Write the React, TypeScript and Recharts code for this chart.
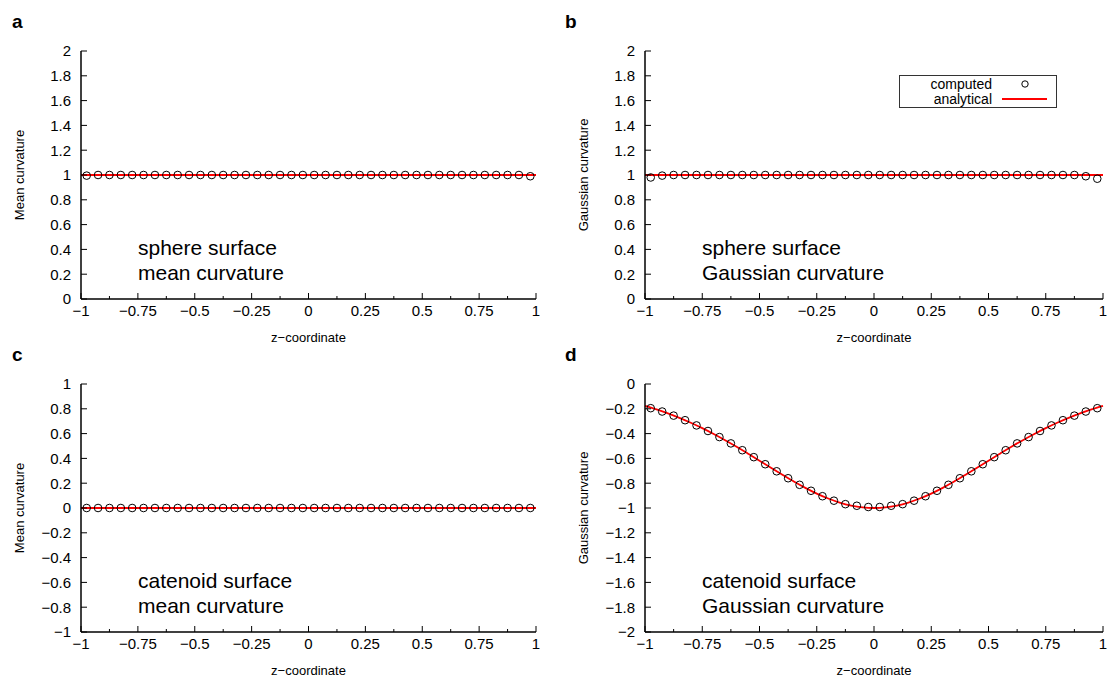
import React from 'react';
import { ComposedChart, Scatter, Line, XAxis, YAxis } from 'recharts';

// sample positions of the computed values
const zComputed = [
  -0.975, -0.925, -0.875, -0.825, -0.775, -0.725, -0.675, -0.625, -0.575, -0.525,
  -0.475, -0.425, -0.375, -0.325, -0.275, -0.225, -0.175, -0.125, -0.075, -0.025,
  0.025, 0.075, 0.125, 0.175, 0.225, 0.275, 0.325, 0.375, 0.425, 0.475,
  0.525, 0.575, 0.625, 0.675, 0.725, 0.775, 0.825, 0.875, 0.925, 0.975,
];

const sphereMeanComputed = [
  0.995, 1, 1, 1, 1, 1, 1, 1, 1, 1,
  1, 1, 1, 1, 1, 1, 1, 1, 1, 1,
  1, 1, 1, 1, 1, 1, 1, 1, 1, 1,
  1, 1, 1, 1, 1, 1, 1, 1, 1, 0.99,
];

const sphereGaussComputed = [
  0.98, 0.995, 1, 1, 1, 1, 1, 1, 1, 1,
  1, 1, 1, 1, 1, 1, 1, 1, 1, 1,
  1, 1, 1, 1, 1, 1, 1, 1, 1, 1,
  1, 1, 1, 1, 1, 1, 1, 1, 0.99, 0.97,
];

const catenoidMeanComputed = [
  0, 0, 0, 0, 0, 0, 0, 0, 0, 0,
  0, 0, 0, 0, 0, 0, 0, 0, 0, 0,
  0, 0, 0, 0, 0, 0, 0, 0, 0, 0,
  0, 0, 0, 0, 0, 0, 0, 0, 0, 0,
];

const catenoidGaussComputed = [
  -0.195, -0.222, -0.255, -0.292, -0.334, -0.379, -0.428, -0.479, -0.534, -0.59,
  -0.647, -0.704, -0.76, -0.813, -0.861, -0.905, -0.941, -0.969, -0.982, -0.992,
  -0.992, -0.982, -0.969, -0.941, -0.905, -0.861, -0.813, -0.76, -0.704, -0.647,
  -0.59, -0.534, -0.479, -0.428, -0.379, -0.334, -0.292, -0.255, -0.222, -0.195,
];

// analytical curves
const flatLineZ = [-1, 1];
const sphereMeanLine = [1, 1];
const sphereGaussLine = [1, 1];
const catenoidMeanLine = [0, 0];

const catenoidLineZ = [
  -1, -0.95, -0.9, -0.85, -0.8, -0.75, -0.7, -0.65, -0.6, -0.55, -0.5,
  -0.45, -0.4, -0.35, -0.3, -0.25, -0.2, -0.15, -0.1, -0.05, 0,
  0.05, 0.1, 0.15, 0.2, 0.25, 0.3, 0.35, 0.4, 0.45, 0.5,
  0.55, 0.6, 0.65, 0.7, 0.75, 0.8, 0.85, 0.9, 0.95, 1,
];
const catenoidGaussLine = [
  -0.176, -0.205, -0.237, -0.273, -0.3125, -0.356, -0.403, -0.453, -0.506, -0.562, -0.6185,
  -0.676, -0.732, -0.7865, -0.8375, -0.8836, -0.9236, -0.956, -0.98, -0.995, -1,
  -0.995, -0.98, -0.956, -0.9236, -0.8836, -0.8375, -0.7865, -0.732, -0.676, -0.6185,
  -0.562, -0.506, -0.453, -0.403, -0.356, -0.3125, -0.273, -0.237, -0.205, -0.176,
];

// ticks
const xTicks = [-1, -0.875, -0.75, -0.625, -0.5, -0.375, -0.25, -0.125, 0, 0.125, 0.25, 0.375, 0.5, 0.625, 0.75, 0.875, 1];
const yTicksPos = [0, 0.2, 0.4, 0.6, 0.8, 1, 1.2, 1.4, 1.6, 1.8, 2];
const yTicksMid = [-1, -0.8, -0.6, -0.4, -0.2, 0, 0.2, 0.4, 0.6, 0.8, 1];
const yTicksNeg = [-2, -1.8, -1.6, -1.4, -1.2, -1, -0.8, -0.6, -0.4, -0.2, 0];

const FONT = '"Liberation Sans", Arial, Helvetica, sans-serif';
const TICK_GAP = 10;

const toPoints = (xs: number[], ys: number[]) => xs.map((x, i) => ({ x, y: ys[i] }));

const fmt = (v: number) => String(Number(v.toFixed(3))).replace('-', '\u2212');

function XTick(props: any) {
  const { x, y, payload } = props;
  const v = payload.value as number;
  const major = Math.abs(v * 4 - Math.round(v * 4)) < 1e-6;
  const axisY = y - 6;
  return (
    <g>
      <line x1={x} x2={x} y1={axisY} y2={axisY - (major ? 6 : 3)} stroke="#000" strokeWidth={1} />
      {major && (
        <text x={x} y={y} dy="0.71em" textAnchor="middle" fontSize={15} fill="#000">
          {fmt(v)}
        </text>
      )}
    </g>
  );
}

function YTick(props: any) {
  const { x, y, payload } = props;
  const axisX = x + TICK_GAP;
  return (
    <g>
      <line x1={axisX} x2={axisX + 6} y1={y} y2={y} stroke="#000" strokeWidth={1} />
      <text x={x} y={y} dy="0.36em" textAnchor="end" fontSize={15} fill="#000">
        {fmt(payload.value)}
      </text>
    </g>
  );
}

function Ring(props: any) {
  const { cx, cy } = props;
  return <circle cx={cx} cy={cy} r={3.8} fill="none" stroke="#000" strokeWidth={1} />;
}

function LegendBox() {
  return (
    <svg width={158} height={33} style={{ display: 'block' }}>
      <rect x={0.5} y={0.5} width={157} height={32} fill="#fff" stroke="#333" strokeWidth={1} />
      <text x={93} y={14} textAnchor="end" fontSize={14} fill="#000" fontFamily={FONT}>computed</text>
      <circle cx={126} cy={9} r={3.2} fill="none" stroke="#000" strokeWidth={1} />
      <text x={93} y={29} textAnchor="end" fontSize={14} fill="#000" fontFamily={FONT}>analytical</text>
      <line x1={103} x2={148} y1={24} y2={24} stroke="#ff0000" strokeWidth={1.8} />
    </svg>
  );
}

interface PanelProps {
  letter: string;
  left: number;
  top: number;
  width: number;
  plotLeft: number;
  plotWidth: number;
  yLabel: string;
  yTicks: number[];
  computed: number[];
  lineZ: number[];
  line: number[];
  note: string[];
  legend?: boolean;
}

function Panel({ letter, left, top, width, plotLeft, plotWidth, yLabel, yTicks, computed, lineZ, line, note, legend }: PanelProps) {
  const height = 348;
  const plotTop = 51;
  const plotBottom = 299;
  const axisW = 62;
  const axisH = 48;
  const scatterData = toPoints(zComputed, computed);
  const lineData = toPoints(lineZ, line);

  return (
    <div style={{ position: 'absolute', left, top, width, height }}>
      <ComposedChart
        width={width}
        height={height}
        margin={{ top: plotTop, left: plotLeft - axisW, right: width - plotLeft - plotWidth, bottom: height - plotBottom - axisH }}
      >
        <XAxis
          type="number"
          dataKey="x"
          domain={[-1, 1]}
          ticks={xTicks}
          interval={0}
          tickSize={0}
          tickMargin={6}
          tickLine={false}
          tick={(p: any) => <XTick {...p} />}
          axisLine={{ stroke: '#000', strokeWidth: 1.5 }}
          height={axisH}
          label={{ value: 'z\u2212coordinate', position: 'insideBottom', offset: 5, style: { fontSize: 13, fill: '#000' } }}
        />
        <YAxis
          type="number"
          dataKey="y"
          domain={[yTicks[0], yTicks[yTicks.length - 1]]}
          ticks={yTicks}
          interval={0}
          tickSize={0}
          tickMargin={TICK_GAP}
          tickLine={false}
          tick={(p: any) => <YTick {...p} />}
          axisLine={{ stroke: '#000', strokeWidth: 1.5 }}
          width={axisW}
          label={{ value: yLabel, angle: -90, position: 'insideLeft', offset: 0, style: { textAnchor: 'middle', fontSize: 13, fill: '#000' } }}
        />
        <Scatter data={scatterData} dataKey="y" shape={(p: any) => <Ring {...p} />} isAnimationActive={false} />
        <Line
          data={lineData}
          dataKey="y"
          type="monotone"
          stroke="#ff0000"
          strokeWidth={1.8}
          dot={false}
          activeDot={false}
          isAnimationActive={false}
        />
      </ComposedChart>
      {legend && (
        <div style={{ position: 'absolute', left: 346, top: 75 }}>
          <LegendBox />
        </div>
      )}
      <div style={{ position: 'absolute', left: 12, top: 12, fontSize: 19, fontWeight: 'bold', lineHeight: '19px' }}>{letter}</div>
      <div style={{ position: 'absolute', left: plotLeft + 57, top: 235, fontSize: 21, lineHeight: '25px', color: '#000' }}>
        {note.map((t) => (
          <div key={t}>{t}</div>
        ))}
      </div>
    </div>
  );
}

export default function App() {
  return (
    <div style={{ position: 'absolute', left: 0, top: 0, width: 1107, height: 681, background: '#fff', fontFamily: FONT, overflow: 'hidden' }}>
      <Panel
        letter="a"
        left={0}
        top={0}
        width={553}
        plotLeft={81}
        plotWidth={455}
        yLabel="Mean curvature"
        yTicks={yTicksPos}
        computed={sphereMeanComputed}
        lineZ={flatLineZ}
        line={sphereMeanLine}
        note={['sphere surface', 'mean curvature']}
      />
      <Panel
        letter="b"
        left={553}
        top={0}
        width={554}
        plotLeft={92}
        plotWidth={458}
        yLabel="Gaussian curvature"
        yTicks={yTicksPos}
        computed={sphereGaussComputed}
        lineZ={flatLineZ}
        line={sphereGaussLine}
        note={['sphere surface', 'Gaussian curvature']}
        legend
      />
      <Panel
        letter="c"
        left={0}
        top={333}
        width={553}
        plotLeft={81}
        plotWidth={455}
        yLabel="Mean curvature"
        yTicks={yTicksMid}
        computed={catenoidMeanComputed}
        lineZ={flatLineZ}
        line={catenoidMeanLine}
        note={['catenoid surface', 'mean curvature']}
      />
      <Panel
        letter="d"
        left={553}
        top={333}
        width={554}
        plotLeft={92}
        plotWidth={458}
        yLabel="Gaussian curvature"
        yTicks={yTicksNeg}
        computed={catenoidGaussComputed}
        lineZ={catenoidLineZ}
        line={catenoidGaussLine}
        note={['catenoid surface', 'Gaussian curvature']}
      />
    </div>
  );
}
